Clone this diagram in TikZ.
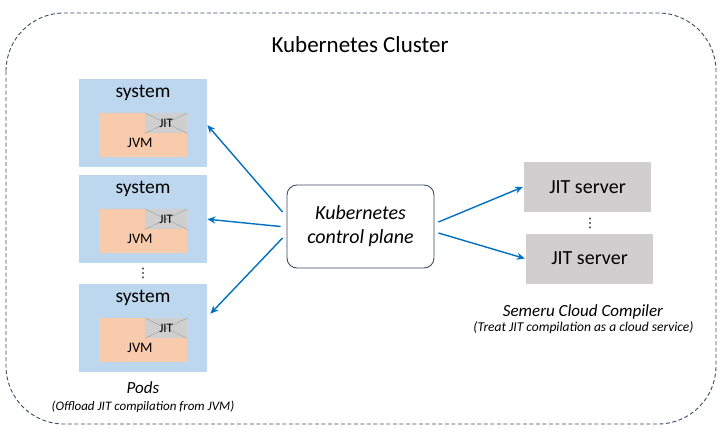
\documentclass[tikz,border=0pt]{standalone}
\usepackage{fontspec}
\setmainfont{Carlito}
\newfontfamily\dotsfont{DejaVu Sans}
\usetikzlibrary{arrows.meta}

\definecolor{podblue}{HTML}{BDD7EE}
\definecolor{jvmorange}{HTML}{F8CBAD}
\definecolor{srvgray}{HTML}{D0CECE}
\definecolor{jitgray}{HTML}{CFCFCF}
\definecolor{arrowblue}{HTML}{0070C0}
\definecolor{framegray}{HTML}{3B4A66}

\tikzset{
  pod/.style={fill=podblue, minimum width=128pt, minimum height=88pt, inner sep=0pt},
  jvmbox/.style={fill=jvmorange, minimum width=88pt, minimum height=44pt, inner sep=0pt},
  jitbox/.style={fill=jitgray, minimum width=42pt, minimum height=20pt, inner sep=0pt},
  server/.style={fill=srvgray, minimum width=127pt, minimum height=50pt, inner sep=0pt,
    font=\fontsize{20}{24}\selectfont},
  ctrl/.style={draw=framegray, line width=0.9pt, rounded corners=10pt, fill=white,
    minimum width=147pt, minimum height=83pt, inner sep=0pt, align=center,
    font=\itshape\fontsize{20}{24}\selectfont},
  dots/.style={inner sep=0pt, font=\dotsfont\fontsize{13}{13}\selectfont},
  link/.style={arrowblue, line width=1.4pt, -{Stealth[length=8pt,width=7pt]}}
}

\begin{document}
\begin{tikzpicture}[x=1pt, y=-1pt]
        \useasboundingbox (0,0) rectangle (720,432);
        \draw[framegray, line width=0.9pt, dash pattern=on 4pt off 2.5pt,
          rounded corners=58pt] (6,13) rectangle (716,424);
        \node[font=\fontsize{23}{27}\selectfont] (title) at (360,45) {Kubernetes Cluster};

        % pods on the left
        \foreach \i/\t in {1/79,2/175,3/284} {
          \node[pod, anchor=north west] (pod\i) at (79,\t) {};
          \node[font=\fontsize{19.5}{22}\selectfont] (sys\i) at (143,\t+14) {system};
          \node[jvmbox, anchor=north west] (jvm\i) at (99,\t+34) {};
          \node[jitbox, anchor=north east] (jit\i) at (jvm\i.north east) {};
          \draw[gray!70, line width=0.5pt] (jit\i.north west) -- (jit\i.south east)
            (jit\i.south west) -- (jit\i.north east);
          \node[font=\fontsize{13}{15}\selectfont] (jitlbl\i) at (jit\i) {JIT};
          \node[font=\fontsize{14.5}{17}\selectfont] (jvmlbl\i) at (140,\t+64) {JVM};
        }
        \node[dots] (poddots) at (143,273) {⋮};
        \node[font=\itshape\fontsize{17}{20}\selectfont] (podname) at (143,388) {Pods};
        \node[font=\itshape\fontsize{13}{16}\selectfont] (podnote) at (143,407)
          {(Offload JIT compilation from JVM)};

        % control plane
        \node[ctrl] (ctrl) at (360.5,226.5) {Kubernetes\\control plane};

        % JIT servers on the right
        \node[server] (srv1) at (587.5,187) {JIT server};
        \node[server] (srv2) at (589.5,258.5) {JIT server};
        \node[dots] (srvdots) at (590,223) {⋮};
        \node[font=\itshape\fontsize{17}{20}\selectfont] (srvname) at (583,312) {Semeru Cloud Compiler};
        \node[font=\itshape\fontsize{13.5}{16}\selectfont] (srvnote) at (583.5,328)
          {(Treat JIT compilation as a cloud service)};

        \draw[link] ([xshift=-4pt,yshift=14.5pt]ctrl.west) -- ([yshift=-2pt]pod1.east);
        \draw[link] ([xshift=-6pt]ctrl.west) -- (pod2.east);
        \draw[link] ([xshift=-4pt,yshift=-11.5pt]ctrl.west) -- ([xshift=3pt,yshift=14.5pt]pod3.east);
        \draw[link] ([xshift=4pt,yshift=4.5pt]ctrl.east) -- ([xshift=-1pt]srv1.west);
        \draw[link] ([xshift=4pt,yshift=-6.5pt]ctrl.east) -- ([xshift=-1pt]srv2.west);
\end{tikzpicture}
\end{document}
